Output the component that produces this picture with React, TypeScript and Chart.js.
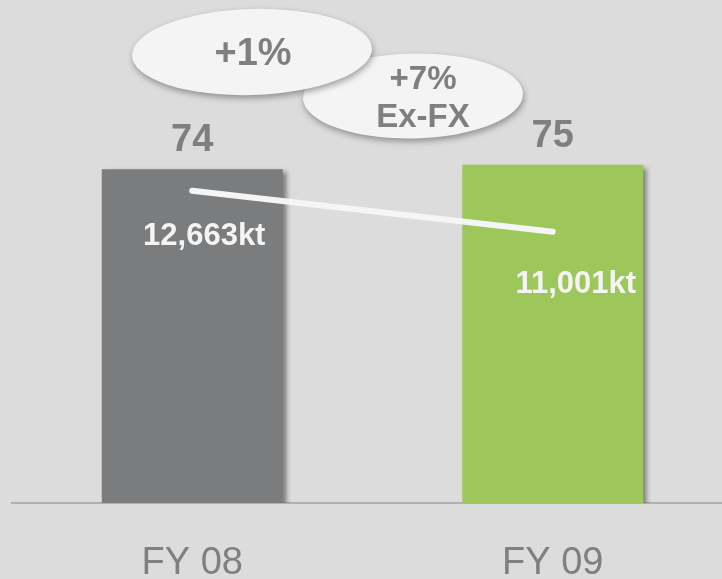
import React, { useEffect, useRef } from "react";
import { Chart, registerables } from "chart.js";

Chart.register(...registerables);

const categories = ["FY 08", "FY 09"];
const barValues = [74, 75];
const volumeValues = [12663, 11001];
const barColors = ["#7b7c7e", "#9dc75b"];
const growthLabel = ["+1%"];
const exFxLabel = ["+7%", "Ex-FX"];

const FONT = '"Liberation Sans", Arial, Helvetica, sans-serif';
const TEXT_GRAY = "#7f7f7f";

const bgPlugin = {
  id: "bgFill",
  beforeDraw(chart: any) {
    const { ctx, width, height } = chart;
    ctx.save();
    ctx.fillStyle = "#dcdcdc";
    ctx.fillRect(0, 0, width, height);
    ctx.restore();
  },
};

const barShadowPlugin = {
  id: "barShadow",
  beforeDatasetDraw(chart: any, args: any) {
    if (chart.data.datasets[args.index].type === "bar") {
      const ctx = chart.ctx;
      ctx.save();
      ctx.shadowColor = "rgba(0,0,0,0.45)";
      ctx.shadowBlur = 5;
      ctx.shadowOffsetX = 4;
      ctx.shadowOffsetY = 3;
    }
  },
  afterDatasetDraw(chart: any, args: any) {
    if (chart.data.datasets[args.index].type === "bar") {
      chart.ctx.restore();
    }
  },
};

const labelPlugin = {
  id: "valueLabels",
  afterDatasetsDraw(chart: any) {
    const ctx = chart.ctx;
    const barMeta = chart.getDatasetMeta(1);
    const lineMeta = chart.getDatasetMeta(0);
    ctx.save();
    ctx.textAlign = "center";
    ctx.textBaseline = "alphabetic";
    ctx.fillStyle = TEXT_GRAY;
    ctx.font = `bold 38px ${FONT}`;
    barMeta.data.forEach((el: any, i: number) => {
      ctx.fillText(String(barValues[i]), el.x, el.y - 18);
    });
    const offsets = [
      [12, 46],
      [23, 53],
    ];
    ctx.fillStyle = "#f4f4f4";
    ctx.font = `bold 31px ${FONT}`;
    ctx.textBaseline = "middle";
    lineMeta.data.forEach((el: any, i: number) => {
      const txt = volumeValues[i].toLocaleString("en-US") + "kt";
      ctx.fillText(txt, el.x + offsets[i][0], el.y + offsets[i][1]);
    });
    ctx.restore();
  },
};

function drawBubble(ctx: any, cx: number, cy: number, rx: number, ry: number, rot: number) {
  ctx.save();
  ctx.shadowColor = "rgba(0,0,0,0.35)";
  ctx.shadowBlur = 6;
  ctx.shadowOffsetX = 1;
  ctx.shadowOffsetY = 3;
  ctx.fillStyle = "#f4f4f4";
  ctx.beginPath();
  ctx.ellipse(cx, cy, rx, ry, rot, 0, Math.PI * 2);
  ctx.fill();
  ctx.restore();
}

const bubblePlugin = {
  id: "bubbles",
  afterDraw(chart: any) {
    const ctx = chart.ctx;
    drawBubble(ctx, 413, 96, 110, 42.5, -0.02);
    drawBubble(ctx, 252, 52, 120, 43, -0.03);
    ctx.save();
    ctx.fillStyle = TEXT_GRAY;
    ctx.textAlign = "center";
    ctx.textBaseline = "middle";
    ctx.font = `bold 38px ${FONT}`;
    ctx.fillText(growthLabel[0], 253, 55);
    ctx.font = `bold 33px ${FONT}`;
    ctx.fillText(exFxLabel[0], 423, 80);
    ctx.fillText(exFxLabel[1], 423, 118);
    ctx.restore();
  },
};

export default function App() {
  const ref = useRef<HTMLCanvasElement | null>(null);

  useEffect(() => {
    if (!ref.current) return;
    const chart = new Chart(ref.current, {
      type: "bar",
      data: {
        labels: categories,
        datasets: [
          {
            type: "line",
            label: "Volume (kt)",
            data: volumeValues,
            yAxisID: "y2",
            borderColor: "#f5f5f5",
            borderWidth: 6,
            borderCapStyle: "round",
            pointRadius: 0,
            pointHoverRadius: 0,
            fill: false,
            tension: 0,
            order: 0,
          } as any,
          {
            type: "bar",
            label: "Value",
            data: barValues,
            yAxisID: "y",
            backgroundColor: barColors,
            borderWidth: 0,
            categoryPercentage: 1,
            barPercentage: 0.502,
            order: 1,
          } as any,
        ],
      },
      options: {
        responsive: false,
        animation: false,
        devicePixelRatio: 1,
        layout: { padding: { left: 12, right: 13, top: 0, bottom: 0 } },
        plugins: {
          legend: { display: false },
          tooltip: { enabled: false },
          title: { display: false },
        },
        scales: {
          x: {
            grid: { display: false, drawTicks: false },
            border: { display: true, color: "#b0b0b0", width: 2 },
            ticks: {
              color: "#808080",
              font: { family: FONT, size: 38, lineHeight: 1 },
              padding: 42,
              maxRotation: 0,
            },
          },
          y: {
            display: false,
            min: 0,
            max: 111.5,
          },
          y2: {
            display: false,
            min: 0,
            max: 20400,
          },
        },
      },
      plugins: [bgPlugin, barShadowPlugin, labelPlugin, bubblePlugin],
    } as any);
    return () => chart.destroy();
  }, []);

  return (
    <div
      style={{
        position: "fixed",
        left: 0,
        top: 0,
        width: 722,
        height: 579,
        overflow: "hidden",
        background: "#dcdcdc",
      }}
    >
      <canvas ref={ref} width={746} height={625} style={{ display: "block" }} />
    </div>
  );
}
